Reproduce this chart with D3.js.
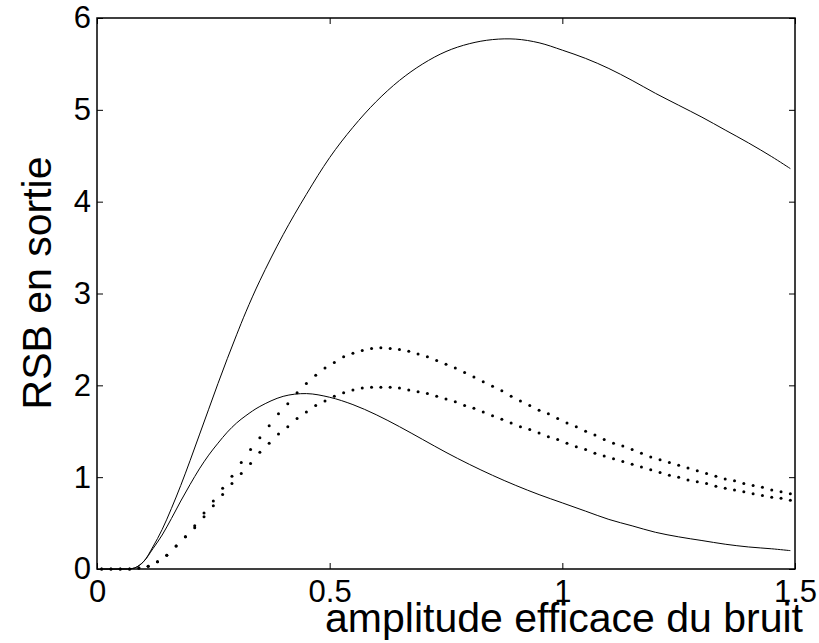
<!DOCTYPE html>
<html lang="fr">
  <head>
    <meta charset="UTF-8" />
    <title>RSB en sortie</title>
    <script src="https://d3js.org/d3.v7.min.js"></script>
    <style>
      body { margin: 0; background: #fff; }
      text { font-family: "Liberation Sans", Arial, Helvetica, sans-serif; fill: #000; }
    </style>
  </head>
  <body>
    <script>
      // tick labels
      const xTicks = [0, 0.5, 1, 1.5];
      const yTicks = [0, 1, 2, 3, 4, 5, 6];

      // solid curves
      const solidX = [0.01, 0.05, 0.08, 0.10, 0.12, 0.14, 0.16, 0.18, 0.20, 0.22, 0.24, 0.26, 0.28, 0.30, 0.32, 0.35,
        0.40, 0.45, 0.50, 0.55, 0.60, 0.65, 0.70, 0.75, 0.80, 0.85, 0.90, 0.95, 1.00, 1.05, 1.10, 1.15, 1.20,
        1.25, 1.30, 1.35, 1.40, 1.45, 1.49];
      const solidHigh = [0, 0, 0.01, 0.08, 0.24, 0.43, 0.66, 0.91, 1.18, 1.46, 1.74, 2.02, 2.29, 2.55, 2.80, 3.14,
        3.64, 4.08, 4.48, 4.81, 5.09, 5.32, 5.50, 5.635, 5.72, 5.765, 5.77, 5.73, 5.65, 5.56, 5.45, 5.32, 5.18,
        5.05, 4.92, 4.78, 4.64, 4.49, 4.36];
      const solidLow = [0, 0, 0.01, 0.08, 0.22, 0.37, 0.55, 0.74, 0.92, 1.09, 1.24, 1.37, 1.49, 1.59, 1.67, 1.77,
        1.88, 1.91, 1.87, 1.79, 1.68, 1.55, 1.41, 1.27, 1.14, 1.02, 0.91, 0.81, 0.72, 0.63, 0.54, 0.47, 0.40,
        0.35, 0.31, 0.27, 0.24, 0.22, 0.20];

      // dotted curves, one dot every 0.02 starting at 0.01
      const dotX = [0.01, 0.03, 0.05, 0.07, 0.09, 0.11, 0.13, 0.15, 0.17, 0.19, 0.21, 0.23, 0.25, 0.27, 0.29,
        0.31, 0.33, 0.35, 0.37, 0.39, 0.41, 0.43, 0.45, 0.47, 0.49, 0.51, 0.53, 0.55, 0.57, 0.59, 0.61, 0.63,
        0.65, 0.67, 0.69, 0.71, 0.73, 0.75, 0.77, 0.79, 0.81, 0.83, 0.85, 0.87, 0.89, 0.91, 0.93, 0.95, 0.97,
        0.99, 1.01, 1.03, 1.05, 1.07, 1.09, 1.11, 1.13, 1.15, 1.17, 1.19, 1.21, 1.23, 1.25, 1.27, 1.29, 1.31,
        1.33, 1.35, 1.37, 1.39, 1.41, 1.43, 1.45, 1.47, 1.49];
      const dotHigh = [0, 0, 0, 0, 0.01, 0.03, 0.08, 0.15, 0.25, 0.35, 0.47, 0.61, 0.74, 0.88, 1.01,
        1.16, 1.30, 1.43, 1.56, 1.69, 1.80, 1.92, 2.02, 2.11, 2.19, 2.25, 2.31, 2.35, 2.38, 2.40, 2.41, 2.40,
        2.39, 2.37, 2.34, 2.31, 2.27, 2.23, 2.19, 2.14, 2.09, 2.04, 1.99, 1.94, 1.88, 1.83, 1.78, 1.73, 1.69,
        1.64, 1.59, 1.55, 1.50, 1.46, 1.41, 1.37, 1.34, 1.30, 1.26, 1.22, 1.19, 1.16, 1.13, 1.10, 1.07, 1.04,
        1.01, 0.98, 0.96, 0.93, 0.91, 0.89, 0.86, 0.84, 0.82];
      const dotLow = [0, 0, 0, 0, 0.01, 0.03, 0.08, 0.15, 0.25, 0.35, 0.45, 0.57, 0.69, 0.81, 0.93,
        1.04, 1.15, 1.27, 1.37, 1.47, 1.55, 1.64, 1.71, 1.78, 1.83, 1.88, 1.92, 1.95, 1.97, 1.98, 1.98, 1.98,
        1.97, 1.95, 1.93, 1.91, 1.88, 1.85, 1.82, 1.78, 1.75, 1.71, 1.67, 1.63, 1.59, 1.55, 1.52, 1.48, 1.44,
        1.41, 1.37, 1.33, 1.30, 1.26, 1.23, 1.20, 1.17, 1.14, 1.11, 1.08, 1.05, 1.02, 1.00, 0.97, 0.95, 0.93,
        0.90, 0.88, 0.86, 0.84, 0.82, 0.80, 0.78, 0.77, 0.75];

      const width = 819;
      const height = 643;
      const plotLeft = 97, plotRight = 795, plotTop = 18, plotBottom = 569;
      const tickFont = 31;

      const svg = d3.select("body").append("svg")
        .attr("width", width)
        .attr("height", height);

      const x = d3.scaleLinear().domain([0, 1.5]).range([plotLeft, plotRight]);
      const y = d3.scaleLinear().domain([0, 6]).range([plotBottom, plotTop]);

      // axes, ticks pointing inward on all four sides
      const styleAxis = (g) => {
        g.select(".domain").remove();
        g.selectAll(".tick line").attr("stroke", "#000").attr("stroke-width", 1);
        g.selectAll("text").style("font-size", tickFont + "px").attr("fill", "#000");
      };

      svg.append("g")
        .attr("transform", `translate(0,${plotBottom})`)
        .call(d3.axisBottom(x).tickValues(xTicks).tickFormat(d3.format("")).tickSizeInner(-6).tickSizeOuter(0).tickPadding(11))
        .call(styleAxis);
      svg.append("g")
        .attr("transform", `translate(0,${plotTop})`)
        .call(d3.axisTop(x).tickValues(xTicks).tickFormat("").tickSizeInner(-6).tickSizeOuter(0))
        .call(styleAxis);
      svg.append("g")
        .attr("transform", `translate(${plotLeft},0)`)
        .call(d3.axisLeft(y).tickValues(yTicks).tickFormat(d3.format("")).tickSizeInner(-6).tickSizeOuter(0).tickPadding(6))
        .call(styleAxis);
      svg.append("g")
        .attr("transform", `translate(${plotRight},0)`)
        .call(d3.axisRight(y).tickValues(yTicks).tickFormat("").tickSizeInner(-6).tickSizeOuter(0))
        .call(styleAxis);

      // frame
      svg.append("rect")
        .attr("x", plotLeft)
        .attr("y", plotTop)
        .attr("width", plotRight - plotLeft)
        .attr("height", plotBottom - plotTop)
        .attr("fill", "none")
        .attr("stroke", "#000")
        .attr("stroke-width", 1.5);

      // solid lines
      const line = d3.line()
        .x((d) => x(d[0]))
        .y((d) => y(d[1]))
        .curve(d3.curveCatmullRom.alpha(0.5));

      [solidHigh, solidLow].forEach((vals) => {
        svg.append("path")
          .datum(solidX.map((v, i) => [v, vals[i]]))
          .attr("fill", "none")
          .attr("stroke", "#000")
          .attr("stroke-width", 1)
          .attr("d", line);
      });

      // dotted series as point markers
      [dotHigh, dotLow].forEach((vals) => {
        svg.append("g")
          .selectAll("circle")
          .data(dotX.map((v, i) => [v, vals[i]]))
          .join("circle")
          .attr("cx", (d) => x(d[0]))
          .attr("cy", (d) => y(d[1]))
          .attr("r", 1.5)
          .attr("fill", "#000");
      });

      // axis titles
      svg.append("text")
        .attr("x", 564)
        .attr("y", 632)
        .attr("text-anchor", "middle")
        .style("font-size", "41px")
        .text("amplitude efficace du bruit");

      svg.append("text")
        .attr("transform", "translate(51,283) rotate(-90)")
        .attr("text-anchor", "middle")
        .style("font-size", "41px")
        .text("RSB en sortie");
    </script>
  </body>
</html>
